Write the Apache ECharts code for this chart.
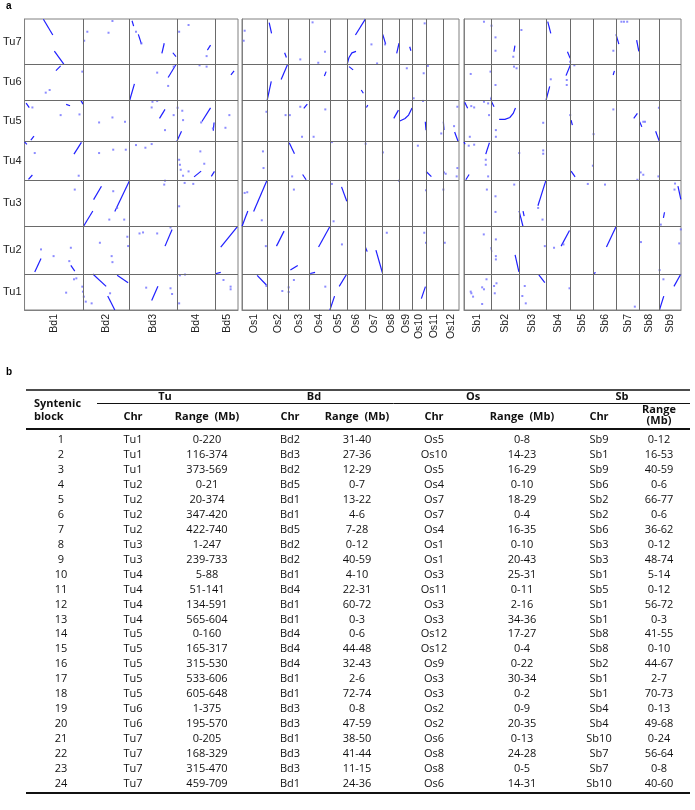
<!DOCTYPE html>
<html>
<head>
<meta charset="utf-8">
<script src="https://cdn.jsdelivr.net/npm/echarts@6/dist/echarts.min.js"></script>
<style>
html, body { margin: 0; padding: 0; background: #fff; }
#chart { width: 695px; height: 810px; }
</style>
</head>
<body>
<div id="chart"></div>
<script>
// chromosome names and lengths (Mb)
var tuNames = ['Tu1', 'Tu2', 'Tu3', 'Tu4', 'Tu5', 'Tu6', 'Tu7'];
var tuLens = [572, 745, 735, 610, 650, 572, 712];
var bdNames = ['Bd1', 'Bd2', 'Bd3', 'Bd4', 'Bd5'];
var bdLens = [75, 59, 60, 49, 29];
var osNames = ['Os1', 'Os2', 'Os3', 'Os4', 'Os5', 'Os6', 'Os7', 'Os8', 'Os9', 'Os10', 'Os11', 'Os12'];
var osLens = [43.3, 35.9, 36.4, 35.5, 29.9, 31.2, 29.7, 28.4, 23.0, 23.2, 29.0, 27.5];
var sbNames = ['Sb1', 'Sb2', 'Sb3', 'Sb4', 'Sb5', 'Sb6', 'Sb7', 'Sb8', 'Sb9'];
var sbLens = [73.8, 77.9, 74.4, 68.0, 62.4, 62.2, 64.3, 55.5, 59.4];

// collinear runs: [x chr, Tu chr, [[x Mb, Tu Mb], ...]]
var bdBlocks = [
  ['Bd1', 'Tu7', [[24, 709], [36, 459]]], ['Bd1', 'Tu7', [[38, 205], [50, 0]]],
  ['Bd3', 'Tu7', [[3, 685], [5, 600]]], ['Bd3', 'Tu7', [[11, 470], [15, 315]]],
  ['Bd3', 'Tu7', [[41, 168], [44, 329]]], ['Bd3', 'Tu7', [[55, 179], [59, 116]]],
  ['Bd4', 'Tu7', [[39, 221], [43, 300]]],
  ['Bd1', 'Tu6', [[40, 469], [46, 543]]], ['Bd3', 'Tu6', [[0, 1], [6, 260]]],
  ['Bd3', 'Tu6', [[49, 360], [59, 565]]], ['Bd5', 'Tu6', [[20, 400], [24, 464]]],
  ['Bd1', 'Tu5', [[2, 606], [6, 533]]], ['Bd1', 'Tu5', [[53, 585], [58, 564]]],
  ['Bd1', 'Tu5', [[72, 645], [74.5, 590]]], ['Bd1', 'Tu5', [[8, 21], [12, 84]]],
  ['Bd3', 'Tu5', [[38, 364], [45, 506]]], ['Bd4', 'Tu5', [[0, 0], [6, 160]]],
  ['Bd4', 'Tu5', [[32, 315], [43, 530]]], ['Bd4', 'Tu5', [[46.5, 170], [47.5, 300]]],
  ['Bd1', 'Tu4', [[63, 410], [72.5, 595]]], ['Bd1', 'Tu4', [[5, 10], [10, 80]]],
  ['Bd1', 'Tu4', [[0, 604], [3, 565]]], ['Bd4', 'Tu4', [[22, 51], [31, 141]]],
  ['Bd4', 'Tu4', [[44, 58], [48, 137]]],
  ['Bd2', 'Tu3', [[0, 1], [12, 247]]], ['Bd2', 'Tu3', [[13, 427], [23, 638]]],
  ['Bd2', 'Tu3', [[40, 239], [59, 733]]],
  ['Bd1', 'Tu2', [[13, 30], [21, 240]]], ['Bd1', 'Tu2', [[59, 132], [64, 42]]],
  ['Bd3', 'Tu2', [[45, 437], [54, 701]]], ['Bd5', 'Tu2', [[7, 422], [28, 740]]],
  ['Bd5', 'Tu2', [[0, 0], [7, 21]]],
  ['Bd2', 'Tu1', [[12, 569], [29, 373]]], ['Bd2', 'Tu1', [[43, 548], [57, 432]]],
  ['Bd2', 'Tu1', [[31, 220], [40, 0]]], ['Bd3', 'Tu1', [[28, 150], [36, 374]]]
];
// single hits: [x chr, x Mb, Tu chr, Tu Mb]
var bdDots = [
  ['Bd2', 37, 'Tu7', 680], ['Bd2', 5, 'Tu7', 511], ['Bd2', 1, 'Tu7', 369], ['Bd2', 32, 'Tu7', 495],
  ['Bd3', 8, 'Tu7', 511], ['Bd3', 15, 'Tu7', 327], ['Bd4', 3, 'Tu7', 511], ['Bd4', 15, 'Tu7', 617],
  ['Bd4', 38, 'Tu7', 126],
  ['Bd1', 27, 'Tu6', 121], ['Bd1', 32, 'Tu6', 163], ['Bd1', 73.6, 'Tu6', 453], ['Bd3', 35, 'Tu6', 437],
  ['Bd3', 49, 'Tu6', 227], ['Bd3', 56, 'Tu6', 532], ['Bd4', 29, 'Tu6', 553], ['Bd4', 38, 'Tu6', 532],
  ['Bd1', 10, 'Tu5', 537], ['Bd1', 46, 'Tu5', 416], ['Bd1', 70, 'Tu5', 427], ['Bd2', 20, 'Tu5', 300],
  ['Bd2', 37, 'Tu5', 379], ['Bd2', 53, 'Tu5', 311], ['Bd3', 29, 'Tu5', 627], ['Bd3', 35, 'Tu5', 638],
  ['Bd3', 28, 'Tu5', 537], ['Bd3', 56, 'Tu5', 416], ['Bd3', 45, 'Tu5', 179], ['Bd4', 1, 'Tu5', 532],
  ['Bd4', 7, 'Tu5', 485], ['Bd4', 8, 'Tu5', 337], ['Bd4', 31, 'Tu5', 300], ['Bd4', 46, 'Tu5', 206],
  ['Bd5', 18, 'Tu5', 416], ['Bd5', 13, 'Tu5', 216],
  ['Bd1', 13, 'Tu4', 427], ['Bd1', 69, 'Tu4', 69], ['Bd2', 20, 'Tu4', 427], ['Bd2', 38, 'Tu4', 480],
  ['Bd2', 54, 'Tu4', 480], ['Bd3', 8, 'Tu4', 553], ['Bd3', 20, 'Tu4', 511], ['Bd3', 28, 'Tu4', 569],
  ['Bd4', 3, 'Tu4', 321], ['Bd4', 4, 'Tu4', 242], ['Bd4', 5, 'Tu4', 163], ['Bd4', 8, 'Tu4', 69],
  ['Bd4', 15, 'Tu4', 137], ['Bd4', 30, 'Tu4', 453], ['Bd4', 35, 'Tu4', 258],
  ['Bd1', 64, 'Tu3', 585], ['Bd2', 38, 'Tu3', 559], ['Bd2', 33, 'Tu3', 111], ['Bd2', 52, 'Tu3', 111],
  ['Bd2', 43, 'Tu3', 295], ['Bd3', 44, 'Tu3', 664], ['Bd3', 45, 'Tu3', 725], ['Bd4', 3, 'Tu3', 321],
  ['Bd4', 10, 'Tu3', 690], ['Bd4', 21, 'Tu3', 675],
  ['Bd1', 21, 'Tu2', 385], ['Bd1', 37, 'Tu2', 279], ['Bd1', 59, 'Tu2', 411], ['Bd1', 57, 'Tu2', 200],
  ['Bd2', 21, 'Tu2', 490], ['Bd2', 36, 'Tu2', 279], ['Bd2', 37, 'Tu2', 184], ['Bd2', 56, 'Tu2', 585],
  ['Bd2', 57, 'Tu2', 438], ['Bd3', 12.5, 'Tu2', 637], ['Bd3', 17, 'Tu2', 653], ['Bd3', 35, 'Tu2', 637],
  ['Bd3', 52, 'Tu2', 732],
  ['Bd1', 53, 'Tu1', 274], ['Bd1', 63, 'Tu1', 485], ['Bd1', 66, 'Tu1', 500], ['Bd1', 73.6, 'Tu1', 369],
  ['Bd1', 74.4, 'Tu1', 290], ['Bd2', 0.5, 'Tu1', 211], ['Bd2', 3, 'Tu1', 132], ['Bd2', 10.5, 'Tu1', 105],
  ['Bd2', 34, 'Tu1', 264], ['Bd3', 21, 'Tu1', 353], ['Bd3', 52, 'Tu1', 343], ['Bd3', 54, 'Tu1', 253],
  ['Bd4', 4, 'Tu1', 548], ['Bd4', 10.5, 'Tu1', 560], ['Bd4', 3, 'Tu1', 105], ['Bd5', 10.5, 'Tu1', 474],
  ['Bd5', 19.6, 'Tu1', 369], ['Bd5', 19.6, 'Tu1', 327]
];

var osBlocks = [
  ['Os2', 'Tu7', [[3.4, 653], [7.5, 485]]], ['Os2', 'Tu7', [[30, 179], [33, 105]]],
  ['Os6', 'Tu7', [[14, 459], [31, 709]]], ['Os6', 'Tu7', [[0, 5], [3, 105], [8, 178], [15, 200]]],
  ['Os8', 'Tu7', [[0, 470], [5, 315]]], ['Os8', 'Tu7', [[24, 168], [28, 329]]],
  ['Os9', 'Tu7', [[18, 274], [20, 211]]],
  ['Os2', 'Tu6', [[0, 1], [7, 300]]], ['Os2', 'Tu6', [[24, 330], [35, 565]]],
  ['Os4', 'Tu6', [[26, 385], [29, 453]]], ['Os6', 'Tu6', [[3, 532], [10, 480]]],
  ['Os6', 'Tu6', [[24, 163], [27.6, 111]]],
  ['Os3', 'Tu5', [[27, 522], [33, 590]]], ['Os7', 'Tu5', [[1.7, 537], [4, 574]]],
  ['Os8', 'Tu5', [[19, 364], [27, 495]]], ['Os9', 'Tu5', [[0, 320], [10, 362], [16, 416], [22, 530]]],
  ['Os10', 'Tu5', [[21.8, 311], [23, 179]]], ['Os12', 'Tu5', [[0.6, 311], [1.7, 180]]],
  ['Os12', 'Tu5', [[20, 150], [26, 0]]],
  ['Os3', 'Tu4', [[2, 591], [11, 416]]], ['Os3', 'Tu4', [[25, 88], [31, 5]]],
  ['Os11', 'Tu4', [[0, 135], [9, 55]]],
  ['Os1', 'Tu3', [[0, 1], [10, 247]]], ['Os1', 'Tu3', [[20, 239], [43, 733]]],
  ['Os5', 'Tu3', [[20, 627], [29, 400]]],
  ['Os2', 'Tu2', [[16, 437], [29, 674]]], ['Os3', 'Tu2', [[4, 58], [16.6, 132]]],
  ['Os4', 'Tu2', [[16, 422], [35, 740]]], ['Os4', 'Tu2', [[0, 0], [10, 21]]],
  ['Os7', 'Tu2', [[18, 374], [29, 20]]], ['Os7', 'Tu2', [[0, 420], [3, 350]]],
  ['Os1', 'Tu1', [[26, 548], [42, 395]]], ['Os5', 'Tu1', [[0, 0], [8, 220]]],
  ['Os5', 'Tu1', [[16, 373], [29, 569]]], ['Os10', 'Tu1', [[15, 180], [22, 370]]]
];
var osDots = [
  ['Os1', 4.6, 'Tu7', 527], ['Os1', 2.9, 'Tu7', 369], ['Os3', 21, 'Tu7', 74], ['Os4', 5.7, 'Tu7', 659],
  ['Os4', 27, 'Tu7', 195], ['Os4', 15.5, 'Tu7', 21], ['Os7', 10.3, 'Tu7', 311], ['Os7', 20, 'Tu7', 10],
  ['Os8', 4, 'Tu7', 311], ['Os10', 20.7, 'Tu7', 643],
  ['Os9', 13, 'Tu6', 506], ['Os10', 19, 'Tu6', 427], ['Os11', 3, 'Tu6', 543], ['Os10', 1.7, 'Tu6', 32],
  ['Os1', 42, 'Tu5', 469], ['Os2', 31.6, 'Tu5', 416], ['Os3', 3, 'Tu5', 416], ['Os3', 21, 'Tu5', 548],
  ['Os3', 24, 'Tu5', 74], ['Os4', 7.5, 'Tu5', 74], ['Os4', 27.6, 'Tu5', 506], ['Os10', 17.8, 'Tu5', 640],
  ['Os11', 26, 'Tu5', 126], ['Os12', 19, 'Tu5', 242], ['Os12', 24.7, 'Tu5', 548],
  ['Os1', 36, 'Tu4', 453], ['Os1', 37, 'Tu4', 190], ['Os3', 7, 'Tu4', 58], ['Os5', 3.4, 'Tu4', 600],
  ['Os7', 0.3, 'Tu4', 574], ['Os8', 0.3, 'Tu4', 437], ['Os10', 9, 'Tu4', 543], ['Os12', 24.7, 'Tu4', 190],
  ['Os12', 23.5, 'Tu4', 58], ['Os12', 1.7, 'Tu4', 121], ['Os12', 4.6, 'Tu4', 100],
  ['Os1', 4.6, 'Tu3', 532], ['Os1', 9, 'Tu3', 543], ['Os1', 34, 'Tu3', 100], ['Os3', 10, 'Tu3', 585],
  ['Os5', 3.4, 'Tu3', 674], ['Os5', 6.3, 'Tu3', 84], ['Os8', 28, 'Tu3', 725], ['Os10', 23, 'Tu3', 574],
  ['Os12', 0.6, 'Tu3', 585],
  ['Os1', 41, 'Tu2', 437], ['Os5', 20.7, 'Tu2', 464], ['Os8', 7, 'Tu2', 648], ['Os10', 20, 'Tu2', 648],
  ['Os10', 23, 'Tu2', 490], ['Os12', 3, 'Tu2', 490],
  ['Os1', 42, 'Tu1', 379], ['Os2', 26, 'Tu1', 300], ['Os3', 1, 'Tu1', 358], ['Os3', 1, 'Tu1', 285],
  ['Os3', 10, 'Tu1', 474], ['Os4', 1.7, 'Tu1', 565], ['Os4', 27.6, 'Tu1', 369]
];

var sbBlocks = [
  ['Sb2', 'Tu7', [[63.7, 195], [66.5, 290]]], ['Sb4', 'Tu7', [[4.6, 669], [13, 485]]],
  ['Sb4', 'Tu7', [[59, 195], [66.5, 90]]], ['Sb7', 'Tu7', [[0, 470], [8, 315]]],
  ['Sb7', 'Tu7', [[57, 380], [63, 200]]],
  ['Sb4', 'Tu6', [[0, 5], [10, 220]]], ['Sb4', 'Tu6', [[55, 390], [67.5, 565]]],
  ['Sb6', 'Tu6', [[54.5, 400], [58, 464]]], ['Sb2', 'Tu6', [[0, 10], [2, 58]]],
  ['Sb1', 'Tu5', [[2, 620], [10, 525]]], ['Sb2', 'Tu5', [[2, 627], [9, 548]]],
  ['Sb2', 'Tu5', [[23, 348], [39, 348], [52.6, 379], [61.8, 443], [68, 527]]],
  ['Sb5', 'Tu5', [[1, 337], [4.5, 258]]], ['Sb7', 'Tu5', [[49, 364], [59, 443]]],
  ['Sb8', 'Tu5', [[1, 311], [7, 230]]], ['Sb8', 'Tu5', [[45, 160], [55, 5]]],
  ['Sb1', 'Tu4', [[60, 410], [70, 590]]], ['Sb1', 'Tu4', [[5, 5], [14, 88]]],
  ['Sb1', 'Tu4', [[0, 604], [3, 565]]], ['Sb5', 'Tu4', [[1, 141], [12, 51]]],
  ['Sb3', 'Tu3', [[0, 247], [11, 1]]], ['Sb3', 'Tu3', [[11, 245], [14, 165]]],
  ['Sb3', 'Tu3', [[52, 330], [74, 730]]], ['Sb9', 'Tu3', [[51, 638], [59, 430]]],
  ['Sb9', 'Tu3', [[11, 137], [14, 227]]],
  ['Sb2', 'Tu2', [[67, 300], [77.5, 30]]], ['Sb2', 'Tu2', [[1, 420], [2.5, 347]]],
  ['Sb4', 'Tu2', [[41.5, 437], [64.6, 685]]], ['Sb6', 'Tu2', [[36, 422], [62, 740]]],
  ['Sb6', 'Tu2', [[0, 0], [6, 21]]],
  ['Sb3', 'Tu1', [[54.5, 553], [71, 432]]], ['Sb9', 'Tu1', [[0, 0], [12, 220]]],
  ['Sb9', 'Tu1', [[40, 373], [59, 569]]]
];
var sbDots = [
  ['Sb1', 55, 'Tu7', 669], ['Sb2', 2, 'Tu7', 606], ['Sb2', 13, 'Tu7', 422], ['Sb2', 13, 'Tu7', 211],
  ['Sb2', 62, 'Tu7', 116], ['Sb3', 6.5, 'Tu7', 538], ['Sb4', 66.5, 'Tu7', 37], ['Sb6', 55, 'Tu7', 211],
  ['Sb7', 15, 'Tu7', 669], ['Sb7', 22, 'Tu7', 669], ['Sb7', 31, 'Tu7', 669],
  ['Sb1', 18.5, 'Tu6', 416], ['Sb1', 73, 'Tu6', 453], ['Sb2', 13, 'Tu6', 242], ['Sb2', 64, 'Tu6', 532],
  ['Sb2', 71, 'Tu6', 506], ['Sb4', 13, 'Tu6', 332], ['Sb4', 57, 'Tu6', 321], ['Sb4', 57, 'Tu6', 242],
  ['Sb5', 10, 'Tu6', 553],
  ['Sb1', 20, 'Tu5', 558], ['Sb1', 28, 'Tu5', 537], ['Sb1', 55, 'Tu5', 627], ['Sb1', 66.5, 'Tu5', 601],
  ['Sb1', 69, 'Tu5', 416], ['Sb1', 16, 'Tu5', 74], ['Sb2', 14, 'Tu5', 179], ['Sb2', 14, 'Tu5', 74],
  ['Sb3', 66.5, 'Tu5', 295], ['Sb4', 66.5, 'Tu5', 416], ['Sb6', 0.5, 'Tu5', 116], ['Sb6', 55, 'Tu5', 506],
  ['Sb8', 15.7, 'Tu5', 311], ['Sb8', 11, 'Tu5', 311], ['Sb8', 54, 'Tu5', 532],
  ['Sb1', 28, 'Tu4', 559], ['Sb1', 13, 'Tu4', 543], ['Sb1', 60, 'Tu4', 321], ['Sb1', 60, 'Tu4', 242],
  ['Sb1', 66.5, 'Tu4', 58], ['Sb3', 0.5, 'Tu4', 427], ['Sb3', 66.5, 'Tu4', 469], ['Sb3', 66.5, 'Tu4', 416],
  ['Sb5', 61, 'Tu4', 227], ['Sb8', 3.7, 'Tu4', 121], ['Sb8', 11, 'Tu4', 84], ['Sb7', 59, 'Tu4', 5],
  ['Sb8', 52.6, 'Tu4', 58],
  ['Sb1', 63, 'Tu3', 585], ['Sb2', 13, 'Tu3', 479], ['Sb2', 13, 'Tu3', 232], ['Sb2', 64.6, 'Tu3', 664],
  ['Sb3', 52.6, 'Tu3', 295], ['Sb3', 64.6, 'Tu3', 111], ['Sb5', 47, 'Tu3', 674], ['Sb6', 32, 'Tu3', 664],
  ['Sb9', 43, 'Tu3', 680], ['Sb9', 41.5, 'Tu3', 585], ['Sb9', 3.7, 'Tu3', 32],
  ['Sb1', 54.5, 'Tu2', 622], ['Sb2', 14, 'Tu2', 543], ['Sb2', 14, 'Tu2', 279], ['Sb2', 14, 'Tu2', 227],
  ['Sb3', 71, 'Tu2', 437], ['Sb4', 22, 'Tu2', 411], ['Sb4', 48, 'Tu2', 464], ['Sb8', 4.6, 'Tu2', 501],
  ['Sb9', 0.5, 'Tu2', 58], ['Sb9', 59, 'Tu2', 701], ['Sb9', 54.5, 'Tu2', 480],
  ['Sb1', 18.5, 'Tu1', 290], ['Sb1', 20.3, 'Tu1', 264], ['Sb1', 25, 'Tu1', 211], ['Sb1', 50, 'Tu1', 358],
  ['Sb1', 55, 'Tu1', 327], ['Sb1', 50, 'Tu1', 95], ['Sb1', 62, 'Tu1', 485], ['Sb2', 9, 'Tu1', 379],
  ['Sb2', 15.7, 'Tu1', 422], ['Sb2', 11, 'Tu1', 264], ['Sb3', 15.7, 'Tu1', 379], ['Sb3', 9, 'Tu1', 221],
  ['Sb3', 18.5, 'Tu1', 105], ['Sb4', 64.6, 'Tu1', 343], ['Sb7', 52, 'Tu1', 53], ['Sb9', 11, 'Tu1', 485]
];

// table b
var blockNo = ['1', '2', '3', '4', '5', '6', '7', '8', '9', '10', '11', '12', '13', '14', '15', '16', '17', '18', '19', '20', '21', '22', '23', '24'];
var tuChr = ['Tu1', 'Tu1', 'Tu1', 'Tu2', 'Tu2', 'Tu2', 'Tu2', 'Tu3', 'Tu3', 'Tu4', 'Tu4', 'Tu4', 'Tu4', 'Tu5', 'Tu5', 'Tu5', 'Tu5', 'Tu5', 'Tu6', 'Tu6', 'Tu7', 'Tu7', 'Tu7', 'Tu7'];
var tuRange = ['0-220', '116-374', '373-569', '0-21', '20-374', '347-420', '422-740', '1-247', '239-733', '5-88', '51-141', '134-591', '565-604', '0-160', '165-317', '315-530', '533-606', '605-648', '1-375', '195-570', '0-205', '168-329', '315-470', '459-709'];
var bdChr = ['Bd2', 'Bd3', 'Bd2', 'Bd5', 'Bd1', 'Bd1', 'Bd5', 'Bd2', 'Bd2', 'Bd1', 'Bd4', 'Bd1', 'Bd1', 'Bd4', 'Bd4', 'Bd4', 'Bd1', 'Bd1', 'Bd3', 'Bd3', 'Bd1', 'Bd3', 'Bd3', 'Bd1'];
var bdRange = ['31-40', '27-36', '12-29', '0-7', '13-22', '4-6', '7-28', '0-12', '40-59', '4-10', '22-31', '60-72', '0-3', '0-6', '44-48', '32-43', '2-6', '72-74', '0-8', '47-59', '38-50', '41-44', '11-15', '24-36'];
var osChr = ['Os5', 'Os10', 'Os5', 'Os4', 'Os7', 'Os7', 'Os4', 'Os1', 'Os1', 'Os3', 'Os11', 'Os3', 'Os3', 'Os12', 'Os12', 'Os9', 'Os3', 'Os3', 'Os2', 'Os2', 'Os6', 'Os8', 'Os8', 'Os6'];
var osRange = ['0-8', '14-23', '16-29', '0-10', '18-29', '0-4', '16-35', '0-10', '20-43', '25-31', '0-11', '2-16', '34-36', '17-27', '0-4', '0-22', '30-34', '0-2', '0-9', '20-35', '0-13', '24-28', '0-5', '14-31'];
var sbChr = ['Sb9', 'Sb1', 'Sb9', 'Sb6', 'Sb2', 'Sb2', 'Sb6', 'Sb3', 'Sb3', 'Sb1', 'Sb5', 'Sb1', 'Sb1', 'Sb8', 'Sb8', 'Sb2', 'Sb1', 'Sb1', 'Sb4', 'Sb4', 'Sb10', 'Sb7', 'Sb7', 'Sb10'];
var sbRange = ['0-12', '16-53', '40-59', '0-6', '66-77', '0-6', '36-62', '0-12', '48-74', '5-14', '0-12', '56-72', '0-3', '41-55', '0-10', '44-67', '2-7', '70-73', '0-13', '49-68', '0-24', '56-64', '0-8', '40-60'];

function layout(names, lens) {
  var start = {}, bounds = [], centers = [], pos = 0;
  for (var i = 0; i < names.length; i++) {
    start[names[i]] = pos;
    centers.push(pos + lens[i] / 2);
    pos += lens[i];
    if (i < names.length - 1) bounds.push(pos);
  }
  return { start: start, bounds: bounds, centers: centers, total: pos, names: names };
}

var tu = layout(tuNames, tuLens);
var panels = [
  { lay: layout(bdNames, bdLens), blocks: bdBlocks, dots: bdDots, left: 21 },
  { lay: layout(osNames, osLens), blocks: osBlocks, dots: osDots, left: 242 },
  { lay: layout(sbNames, sbLens), blocks: sbBlocks, dots: sbDots, left: 464 }
];

function nameAt(lay, v) {
  for (var i = 0; i < lay.centers.length; i++) {
    if (Math.abs(lay.centers[i] - v) < 1e-6) return lay.names[i];
  }
  return '';
}

var grids = [], xAxes = [], yAxes = [], series = [];
panels.forEach(function (p, i) {
  var lay = p.lay;
  grids.push({ left: p.left, top: 19, width: 217, height: 291, show: true, borderColor: '#808080', borderWidth: 1 });
  xAxes.push({
    type: 'value', gridIndex: i, min: 0, max: lay.total,
    axisLine: { show: true, lineStyle: { color: '#808080' } },
    axisTick: { show: false }, splitLine: { show: false },
    axisLabel: {
      customValues: lay.centers, rotate: 90, margin: 4, fontSize: 10.5,
      fontFamily: 'Liberation Sans', color: '#222',
      formatter: function (v) { return nameAt(lay, v); }
    }
  });
  yAxes.push({
    type: 'value', gridIndex: i, min: 0, max: tu.total,
    axisLine: { show: true, lineStyle: { color: '#808080' } },
    axisTick: { show: false }, splitLine: { show: false },
    axisLabel: {
      show: i === 0, customValues: tu.centers, margin: 3, fontSize: 11,
      fontFamily: 'Liberation Sans', color: '#222',
      formatter: function (v) { return nameAt(tu, v); }
    }
  });
  series.push({
    type: 'lines', coordinateSystem: 'cartesian2d', xAxisIndex: i, yAxisIndex: i,
    polyline: true, silent: true,
    lineStyle: { color: '#1f1fff', width: 1.2, opacity: 1 },
    data: p.blocks.map(function (b) {
      return { coords: b[2].map(function (pt) { return [lay.start[b[0]] + pt[0], tu.start[b[1]] + pt[1]]; }) };
    })
  });
  series.push({
    type: 'scatter', xAxisIndex: i, yAxisIndex: i, silent: true,
    symbol: 'rect', symbolSize: 2,
    itemStyle: { color: '#6f6fff' },
    data: p.dots.map(function (d) { return [lay.start[d[0]] + d[1], tu.start[d[2]] + d[3]]; }),
    markLine: {
      silent: true, symbol: ['none', 'none'], label: { show: false },
      lineStyle: { color: '#6a6a6a', width: 1, type: 'solid' },
      data: lay.bounds.map(function (v) { return { xAxis: v }; })
        .concat(tu.bounds.map(function (v) { return { yAxis: v }; }))
    }
  });
});

// table graphics
var font = '"Open Sans", "Noto Sans", sans-serif';
var g = [];
function txt(s, x, y, bold, align) {
  g.push({
    type: 'text', silent: true,
    style: {
      text: s, x: x, y: y, fill: '#111',
      textAlign: align || 'center', align: align || 'center',
      textVerticalAlign: 'middle', verticalAlign: 'middle',
      fontSize: 11, fontFamily: font, fontWeight: bold ? 'bold' : 'normal'
    }
  });
}
function hline(x1, x2, y, w) {
  g.push({ type: 'line', silent: true, shape: { x1: x1, y1: y, x2: x2, y2: y }, style: { stroke: '#111', lineWidth: w } });
}
g.push({ type: 'text', silent: true, style: { text: 'a', x: 6, y: 6, fill: '#000', fontSize: 10, fontWeight: 'bold', fontFamily: 'Liberation Sans', textVerticalAlign: 'middle', verticalAlign: 'middle' } });
g.push({ type: 'text', silent: true, style: { text: 'b', x: 6, y: 372, fill: '#000', fontSize: 10, fontWeight: 'bold', fontFamily: 'Liberation Sans', textVerticalAlign: 'middle', verticalAlign: 'middle' } });

var colX = [61, 133, 207, 290, 357, 434, 522, 599, 659];
hline(26, 690, 390, 1.5);
hline(97, 690, 403.5, 1);
hline(26, 690, 429, 2);
hline(26, 690, 793, 2);
txt('Syntenic', 34, 404, true, 'left');
txt('block', 34, 417, true, 'left');
txt('Tu', 165, 397, true); txt('Bd', 314, 397, true); txt('Os', 473, 397, true); txt('Sb', 622, 397, true);
txt('Chr', colX[1], 417, true); txt('Range  (Mb)', colX[2], 417, true);
txt('Chr', colX[3], 417, true); txt('Range  (Mb)', colX[4], 417, true);
txt('Chr', colX[5], 417, true); txt('Range  (Mb)', colX[6], 417, true);
txt('Chr', colX[7], 417, true); txt('Range', colX[8], 410, true); txt('(Mb)', colX[8], 421, true);
var cols = [blockNo, tuChr, tuRange, bdChr, bdRange, osChr, osRange, sbChr, sbRange];
for (var r = 0; r < blockNo.length; r++) {
  var y = 440 + r * 14.95;
  for (var c = 0; c < cols.length; c++) txt(cols[c][r], colX[c], y, false);
}

var chart = echarts.init(document.getElementById('chart'));
chart.setOption({
  animation: false,
  backgroundColor: '#fff',
  grid: grids,
  xAxis: xAxes,
  yAxis: yAxes,
  series: series,
  graphic: g
});
</script>
</body>
</html>
